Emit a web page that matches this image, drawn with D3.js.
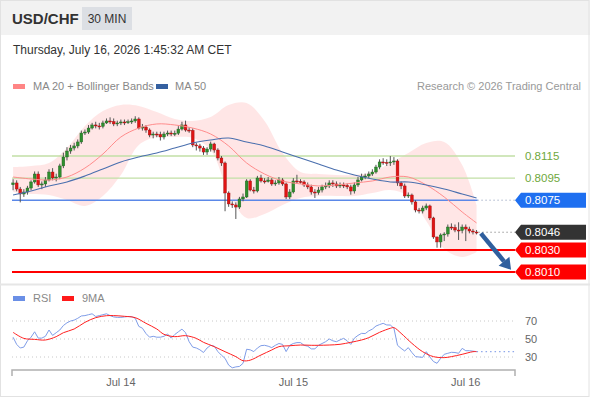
<!DOCTYPE html>
<html><head><meta charset="utf-8">
<script src="https://cdn.jsdelivr.net/npm/d3@7/dist/d3.min.js"></script>
<style>
body{margin:0;background:#fff;}
svg{display:block;font-family:"Liberation Sans",Arial,Helvetica,sans-serif;}
</style>
</head><body>
<svg id="c" width="590" height="400"></svg>
<script>
// ---------- DATA ----------
const symbol = "USD/CHF";
const period = "30 MIN";
const stamp = "Thursday, July 16, 2026 1:45:32 AM CET";
const firstOpen = 0.80890;
const closes = [
0.80906,0.80851,0.80806,0.80824,0.80860,0.80915,0.80987,0.80888,0.80897,0.80933,
0.81005,0.80951,0.80960,0.81060,0.81141,0.81195,0.81222,0.81241,0.81277,0.81358,
0.81367,0.81403,0.81431,0.81422,0.81418,0.81449,0.81467,0.81462,0.81440,0.81449,
0.81458,0.81454,0.81460,0.81467,0.81485,0.81403,0.81412,0.81385,0.81340,0.81349,
0.81345,0.81322,0.81349,0.81358,0.81350,0.81356,0.81394,0.81431,0.81385,0.81382,
0.81250,0.81241,0.81222,0.81186,0.81213,0.81259,0.81204,0.81132,0.81087,0.80815,
0.80716,0.80707,0.80688,0.80761,0.80779,0.80924,0.80842,0.80833,0.80951,0.80924,
0.80920,0.80933,0.80897,0.80906,0.80933,0.80897,0.80779,0.80824,0.80924,0.80920,
0.80915,0.80888,0.80870,0.80824,0.80820,0.80842,0.80870,0.80879,0.80906,0.80897,
0.80879,0.80888,0.80884,0.80870,0.80833,0.80888,0.80933,0.80960,0.80969,0.80987,
0.81005,0.81050,0.81096,0.81092,0.81087,0.81096,0.81105,0.80906,0.80879,0.80788,
0.80797,0.80734,0.80661,0.80652,0.80679,0.80698,0.80589,0.80417,0.80372,0.80435,
0.80444,0.80507,0.80503,0.80480,0.80476,0.80507,0.80489,0.80471,0.80462,0.80458];
const highs = [
.8094,.8093,.8087,.8085,.8088,.8093,.8101,.8101,.8092,.8096,
.8103,.8104,.8099,.8108,.8118,.8123,.8125,.8127,.8130,.8138,
.8139,.8143,.8145,.8146,.8145,.8147,.8149,.8150,.8149,.8147,
.8148,.8148,.8148,.8149,.8151,.8150,.8144,.8143,.8140,.8137,
.8137,.8137,.8137,.8138,.8138,.8138,.8142,.8146,.8147,.8141,
.8140,.8127,.8126,.8124,.8123,.8128,.8127,.8122,.8115,.8110,
.8083,.8074,.8073,.8078,.8081,.8094,.8094,.8087,.8097,.8098,
.8095,.8096,.8095,.8093,.8096,.8095,.8091,.8085,.8095,.8098,
.8094,.8093,.8091,.8089,.8085,.8087,.8089,.8091,.8093,.8093,
.8092,.8091,.8091,.8090,.8089,.8091,.8096,.8099,.8099,.8101,
.8103,.8107,.8112,.8113,.8112,.8115,.8114,.8112,.8092,.8090,
.8082,.8081,.8075,.8068,.8070,.8072,.8071,.8060,.8042,.8045,
.8046,.8053,.8054,.8053,.8055,.8053,.8053,.8051,.8049,.8048];
const lows = [
.8084,.8083,.8073,.8078,.8080,.8084,.8090,.8087,.8085,.8087,
.8092,.8093,.8092,.8094,.8104,.8111,.8117,.8120,.8122,.8126,
.8134,.8135,.8139,.8140,.8139,.8140,.8144,.8144,.8142,.8142,
.8143,.8143,.8144,.8144,.8145,.8139,.8138,.8136,.8132,.8131,
.8132,.8129,.8130,.8133,.8133,.8133,.8134,.8138,.8137,.8136,
.8123,.8120,.8119,.8116,.8116,.8119,.8118,.8111,.8106,.8065,
.8069,.8068,.8058,.8067,.8074,.8077,.8083,.8081,.8082,.8091,
.8090,.8091,.8088,.8088,.8089,.8088,.8076,.8076,.8081,.8090,
.8090,.8087,.8085,.8080,.8077,.8080,.8082,.8085,.8086,.8087,
.8086,.8086,.8086,.8085,.8080,.8081,.8087,.8092,.8094,.8095,
.8097,.8099,.8103,.8107,.8106,.8106,.8107,.8088,.8085,.8077,
.8077,.8071,.8064,.8063,.8063,.8066,.8057,.8040,.8032,.8032,
.8038,.8042,.8048,.8046,.8039,.8045,.8038,.8045,.8044,.8044];

// indicator samples (candle index)
const bandIdx = [0,5,10,15,20,25,30,35,40,45,50,55,60,65,70,75,80,85,90,95,100,105,110,115,120,125,129];
const ma20 = [.80960,.80942,.80933,.80960,.81041,.81168,.81322,.81403,.81440,.81431,.81403,.81349,.81241,.81087,.80987,.80924,.80897,.80879,.80888,.80906,.80924,.80960,.80960,.80888,.80779,.80643,.80544];
const ma50 = [.80797,.80833,.80879,.80915,.80969,.81032,.81096,.81141,.81177,.81222,.81268,.81295,.81313,.81277,.81241,.81186,.81132,.81078,.81023,.80978,.80942,.80915,.80915,.80888,.80851,.80806,.80770];
const bbUpper = [.81050,.81060,.81087,.81222,.81422,.81557,.81612,.81603,.81548,.81485,.81467,.81503,.81612,.81630,.81467,.81177,.81005,.80987,.80978,.80978,.81005,.81087,.81177,.81268,.81277,.81069,.80707];
const bbLower = [.80824,.80806,.80797,.80752,.80698,.80788,.80978,.81250,.81322,.81322,.81313,.81204,.80824,.80589,.80625,.80707,.80770,.80788,.80788,.80788,.80815,.80842,.80788,.80562,.80308,.80236,.80281];

const rsi = [52,44,40,41,48,52,58,51,51,53,60,54,57,60,65,68,70,71,73,75.6,
76,77,78,75,76,77,78,76,74.5,74,74,74.5,75,74.8,73,64,62,56,52,53,
52,52,53,55.6,51,55,58,61,57,47,41,40,38,35,40,43,42,36,32,28.5,
21,18,19,19.5,23,38.6,38,36,40,42.6,43,42,40.4,43,45,44,36,43,45,46,
46,43,42,39,39,43,45,47,50,48,47,49,50.7,48,44,51,54,56.3,56,59,
61,64.4,66,67.4,65.6,65.5,62,43,39.6,36.7,40.4,35,30.4,30,29.6,35.9,30,25,23,28.5,
33,34.1,35.2,35,34.1,39.6,37,37,36.5,36];
const rsiMaIdx = [0,3,6,9,12,14,17,20,23,26,28,31,34,37,40,42,45,48,51,53,56,59,62,64,66,69,72,74,77,80,83,85,88,91,94,97,99,102,105,106,108,111,114,117,120,122,125,128,129];
const rsiMa = [57.4,50.7,49.6,48.9,52.6,57,61.1,68.5,73.7,75.9,76,75.2,73.7,67.4,61.1,55.2,52.6,53.7,50.7,46.3,41.5,35.9,30.4,25.9,26.5,32.2,37.8,41.5,42.5,43.3,43,43,43.3,44.1,46.3,48.9,51.5,57.4,61.9,62.6,56.3,45.2,35.9,30.4,29.3,30.4,33,35.9,36];
const rsiGrid = [70,50,30];

const levels = [0.8115, 0.8095, 0.8075, 0.8046, 0.8030, 0.8010];
const levelLabels = ["0.8115","0.8095","0.8075","0.8046","0.8030","0.8010"];
const levelKinds = ["res","res","pivot","last","sup","sup"];

const tickIdx = [30, 78, 126];
const tickLabels = ["Jul 14","Jul 15","Jul 16"];
const arrowFrom = [130.2, 0.80450];
const arrowTo = [138.6, 0.80120];

// ---------- DRAW ----------
const svg = d3.select("#c");
const W = 590, H = 400;
const x = d3.scaleLinear().domain([-0.3, 139.7]).range([12, 515]);
const y = d3.scaleLinear().domain([0.8010, 0.8115]).range([272, 156]);
const yr = d3.scaleLinear().domain([30, 70]).range([357, 321]);
const last = closes.length - 1;

// background + header
svg.append("rect").attr("width",W).attr("height",H).attr("fill","#fff");
svg.append("rect").attr("width",W).attr("height",35).attr("fill","#f2f2f2");
svg.append("rect").attr("x",0.5).attr("y",0.5).attr("width",W-1.5).attr("height",396).attr("fill","none").attr("stroke","#e2e2e2");
svg.append("text").attr("x",12).attr("y",24).attr("font-size",15).attr("font-weight","bold").attr("fill","#333").text(symbol);
svg.append("rect").attr("x",82).attr("y",7).attr("width",50).attr("height",23).attr("fill","#dcdfe4");
svg.append("text").attr("x",107).attr("y",23).attr("text-anchor","middle").attr("font-size",12).attr("fill","#333").text(period);
svg.append("text").attr("x",13).attr("y",54).attr("font-size",12).attr("fill","#333").text(stamp);

// legend
svg.append("rect").attr("x",13).attr("y",84).attr("width",12).attr("height",5).attr("fill","#ff8585");
svg.append("text").attr("x",33).attr("y",90).attr("font-size",11).attr("fill","#888").text("MA 20 + Bollinger Bands");
svg.append("rect").attr("x",156).attr("y",84).attr("width",12).attr("height",5).attr("fill","#3560a0");
svg.append("text").attr("x",175).attr("y",90).attr("font-size",11).attr("fill","#888").text("MA 50");
svg.append("text").attr("x",581).attr("y",90).attr("text-anchor","end").attr("font-size",11).attr("fill","#999").text("Research \u00a9 2026 Trading Central");

// bollinger band
const bandData = bandIdx.map((d,k)=>({i:d,u:bbUpper[k],l:bbLower[k],m20:ma20[k],m50:ma50[k]}));
svg.append("path").datum(bandData)
  .attr("d", d3.area().x(d=>x(d.i)).y0(d=>y(d.l)).y1(d=>y(d.u)).curve(d3.curveCatmullRom))
  .attr("fill","#ffe0e0").attr("opacity",0.8);

// level lines
const lvl = svg.append("g");
levels.forEach((v,k)=>{
  const kind = levelKinds[k], yy = y(v);
  if(kind==="res"){
    lvl.append("line").attr("x1",12).attr("x2",515).attr("y1",yy).attr("y2",yy).attr("stroke","#c2dfa6").attr("stroke-width",1.3);
    lvl.append("text").attr("x",525).attr("y",yy+4).attr("font-size",11.5).attr("fill","#6fa83c").text(levelLabels[k]);
  } else {
    let col, lineEnd;
    if(kind==="pivot"){ col="#1e6ff0"; lineEnd=x(last)+1;
      lvl.append("line").attr("x1",12).attr("x2",lineEnd).attr("y1",yy).attr("y2",yy).attr("stroke","#5b88e8").attr("stroke-width",1.6);
      lvl.append("line").attr("x1",lineEnd).attr("x2",515).attr("y1",yy).attr("y2",yy).attr("stroke","#7f8fb0").attr("stroke-width",1).attr("stroke-dasharray","1,3");
    } else if(kind==="last"){ col="#333333";
      lvl.append("line").attr("x1",x(last)+2).attr("x2",515).attr("y1",yy).attr("y2",yy).attr("stroke","#666").attr("stroke-width",1).attr("stroke-dasharray","1,3");
    } else { col="#ff0000";
      lvl.append("line").attr("x1",12).attr("x2",515).attr("y1",yy).attr("y2",yy).attr("stroke","#ff0000").attr("stroke-width",2);
    }
    const h=7.5;
    lvl.append("path").attr("d",`M515,${yy}L521,${yy-h}L586,${yy-h}L586,${yy+h}L521,${yy+h}Z`).attr("fill",col);
    lvl.append("text").attr("x",525).attr("y",yy+4).attr("font-size",11.5).attr("fill","#fff").text(levelLabels[k]);
  }
});

// candles
const cg = svg.append("g");
closes.forEach((c,i)=>{
  const o = i===0 ? firstOpen : closes[i-1];
  const up = c >= o;
  const xx = x(i);
  cg.append("line").attr("x1",xx).attr("x2",xx).attr("y1",y(highs[i])).attr("y2",y(lows[i])).attr("stroke","#555").attr("stroke-width",1);
  const top = y(Math.max(o,c)), bot = y(Math.min(o,c));
  cg.append("rect").attr("x",xx-1.4).attr("y",top).attr("width",2.8).attr("height",Math.max(1,bot-top))
    .attr("fill", up ? "#2f8f2f" : "#e01414").attr("stroke", up ? "#1f5f1f" : "#9a1010").attr("stroke-width",0.4);
});

// MA lines
svg.append("path").datum(bandData).attr("d", d3.line().x(d=>x(d.i)).y(d=>y(d.m20)).curve(d3.curveCatmullRom))
  .attr("fill","none").attr("stroke","#ff8c8c").attr("stroke-width",1);
svg.append("path").datum(bandData).attr("d", d3.line().x(d=>x(d.i)).y(d=>y(d.m50)).curve(d3.curveCatmullRom))
  .attr("fill","none").attr("stroke","#4a6fae").attr("stroke-width",1.1);

// arrow
const ax1=x(arrowFrom[0]), ay1=y(arrowFrom[1]), ax2=x(arrowTo[0]), ay2=y(arrowTo[1]);
const ang = Math.atan2(ay2-ay1, ax2-ax1);
const back = 11;
const bx = ax2 - back*Math.cos(ang), by = ay2 - back*Math.sin(ang);
svg.append("line").attr("x1",ax1).attr("y1",ay1).attr("x2",bx).attr("y2",by).attr("stroke","#2f5f9e").attr("stroke-width",4.5);
const pw = 7;
svg.append("path").attr("d",`M${ax2},${ay2}L${bx+pw*Math.sin(ang)},${by-pw*Math.cos(ang)}L${bx-pw*Math.sin(ang)},${by+pw*Math.cos(ang)}Z`).attr("fill","#2f5f9e");

// separator
svg.append("line").attr("x1",0).attr("x2",W).attr("y1",284.5).attr("y2",284.5).attr("stroke","#e6e6e6").attr("stroke-width",2);

// RSI panel
svg.append("rect").attr("x",13).attr("y",296).attr("width",12).attr("height",5).attr("fill","#6a8fe6");
svg.append("text").attr("x",33).attr("y",302).attr("font-size",11).attr("fill","#888").text("RSI");
svg.append("rect").attr("x",62).attr("y",296).attr("width",12).attr("height",5).attr("fill","#ff1a1a");
svg.append("text").attr("x",82).attr("y",302).attr("font-size",11).attr("fill","#888").text("9MA");
rsiGrid.forEach(v=>{
  svg.append("line").attr("x1",12).attr("x2",515).attr("y1",yr(v)).attr("y2",yr(v)).attr("stroke","#c8c8c8").attr("stroke-width",1).attr("stroke-dasharray","1,3");
  svg.append("text").attr("x",525).attr("y",yr(v)+4).attr("font-size",11).attr("fill","#666").text(v);
});
svg.append("line").attr("x1",x(last)).attr("x2",515).attr("y1",yr(rsi[last])).attr("y2",yr(rsi[last])).attr("stroke","#8fa8ea").attr("stroke-width",1.2).attr("stroke-dasharray","1.5,3");
svg.append("path").datum(rsi).attr("d", d3.line().x((d,i)=>x(i)).y(d=>yr(d)))
  .attr("fill","none").attr("stroke","#7f9de8").attr("stroke-width",1);
svg.append("path").datum(rsiMa).attr("d", d3.line().x((d,k)=>x(rsiMaIdx[k])).y(d=>yr(d)).curve(d3.curveCatmullRom))
  .attr("fill","none").attr("stroke","#ff2020").attr("stroke-width",1);

// x axis
const xa = svg.append("g").attr("transform","translate(0,370)");
xa.append("path").attr("d","M12,6V0H515V6").attr("fill","none").attr("stroke","#b0b0b0").attr("stroke-width",1.5);
tickIdx.forEach((t,k)=>{
  xa.append("text").attr("x",x(t)).attr("y",16).attr("text-anchor","middle").attr("font-size",11).attr("fill","#666").text(tickLabels[k]);
});
</script>
</body></html>
